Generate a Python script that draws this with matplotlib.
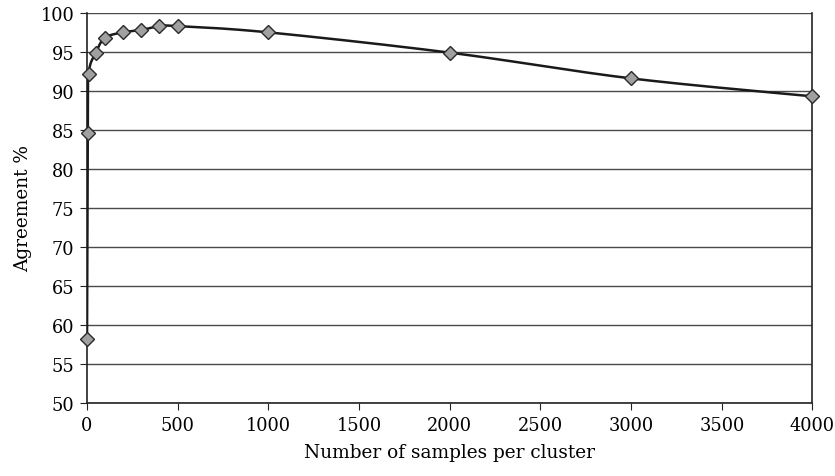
import numpy as np
import matplotlib.pyplot as plt

plt.rcParams['font.family'] = ['DejaVu Serif']

# Samples per cluster vs agreement
samples = [1, 5, 10, 50, 100, 200, 300, 400, 500, 1000, 2000, 3000, 4000]
agreement = [58.2, 84.6, 92.2, 94.9, 96.8, 97.5, 97.8, 98.3, 98.3, 97.5, 94.9, 91.6, 89.3]


# Catmull-Rom style smoothing (like a spreadsheet "smoothed line")
def smooth(xs, ys, n=30):
    xs = np.asarray(xs, float)
    ys = np.asarray(ys, float)
    px = np.concatenate([[xs[0]], xs, [xs[-1]]])
    py = np.concatenate([[ys[0]], ys, [ys[-1]]])
    out_x, out_y = [], []
    t = np.linspace(0, 1, n)
    for i in range(1, len(px) - 2):
        p0, p1, p2, p3 = [np.array([px[j], py[j]]) for j in range(i - 1, i + 3)]
        c1 = p1 + (p2 - p0) / 6
        c2 = p2 - (p3 - p1) / 6
        pts = ((1 - t) ** 3)[:, None] * p1 + (3 * (1 - t) ** 2 * t)[:, None] * c1 \
            + (3 * (1 - t) * t ** 2)[:, None] * c2 + (t ** 3)[:, None] * p2
        out_x.extend(pts[:, 0])
        out_y.extend(pts[:, 1])
    return out_x, out_y


fig = plt.figure(figsize=(8.35, 4.77), dpi=100)
ax = fig.add_axes([0.104, 0.153, 0.869, 0.818])

sx, sy = smooth(samples, agreement)
ax.plot(sx, sy, color='#1a1a1a', linewidth=1.8, zorder=3)
ax.plot(samples, agreement, linestyle='none', marker='D', markersize=7.5,
        markerfacecolor='#a0a0a0', markeredgecolor='#2a2a2a', markeredgewidth=1.0,
        zorder=4, clip_on=False)

ax.set_xlim(0, 4000)
ax.set_ylim(50, 100)
ax.set_xticks(range(0, 4001, 500))
ax.set_yticks(range(50, 101, 5))
ax.grid(axis='y', color='#4a4a4a', linewidth=1.0)
ax.set_axisbelow(True)
ax.spines['top'].set_visible(False)
for s in ['left', 'right', 'bottom']:
    ax.spines[s].set_color('#222222')
    ax.spines[s].set_linewidth(1.2)
ax.tick_params(labelsize=12.8, length=5, color='#222222', pad=4)

ax.set_xlabel('Number of samples per cluster', fontsize=13.3, labelpad=7)
ax.set_ylabel('Agreement %', fontsize=13.3, labelpad=6)

fig.savefig('out.png', dpi=100)
